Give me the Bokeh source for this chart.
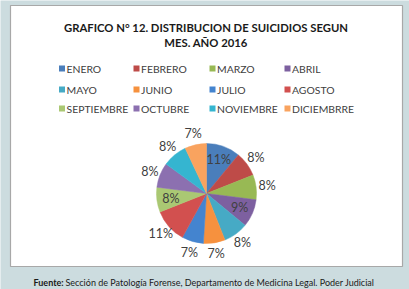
import math
from bokeh.plotting import figure
from bokeh.models import Range1d, ColumnDataSource
from bokeh.core.properties import value
from bokeh.embed import file_html
from bokeh.resources import INLINE

# ---- data ----
months = ["ENERO", "FEBRERO", "MARZO", "ABRIL", "MAYO", "JUNIO",
          "JULIO", "AGOSTO", "SEPTIEMBRE", "OCTUBRE", "NOVIEMBRE", "DICIEMBRRE"]
percent = [11, 8, 8, 9, 8, 7, 7, 11, 8, 8, 8, 7]
colors = ["#4A7EBB", "#BE4B48", "#98B954", "#7D60A0", "#46AAC5", "#F6913E",
          "#4484CF", "#D2504F", "#AAC873", "#8C70B0", "#35B5D0", "#F9A35F"]
inside_labels = ["ENERO", "ABRIL", "SEPTIEMBRE"]
title_lines = ["GRAFICO N° 12. DISTRIBUCION DE SUICIDIOS SEGUN", "MES. AÑO 2016"]
source_bold = "Fuente:"
source_text = "Sección de Patología Forense, Departamento de Medicina Legal. Poder Judicial"

W, H = 409, 289
FONT = value("Lato")


def Y(py):
    return H - py


p = figure(width=W, height=H, x_range=Range1d(0, W), y_range=Range1d(0, H),
           output_backend="svg", toolbar_location=None, min_border=0)
p.axis.visible = False
p.grid.visible = False
p.outline_line_color = None
p.background_fill_color = "#CCDCDF"
p.border_fill_color = "#CCDCDF"

# white panel
p.quad(left=[10], right=[402], top=[Y(5)], bottom=[Y(266)],
       fill_color="white", line_color="#A8A8A8", line_width=1.2)

# title
p.text(x=[205.5, 205.5], y=[Y(27), Y(42)], text=title_lines,
       text_font=FONT, text_font_style="bold", text_font_size="11.3px",
       text_align="center", text_baseline="middle", text_color="#1a1a1a")

# legend 3 rows x 4 columns
col_x = [61.5, 136, 212, 287]
row_y = [68, 89, 108]
lx, ly, lt, lc = [], [], [], []
for i, m in enumerate(months):
    r, c = divmod(i, 4)
    lx.append(col_x[c]); ly.append(Y(row_y[r])); lt.append(m); lc.append(colors[i])
p.rect(x=lx, y=ly, width=6, height=6, fill_color=lc, line_color=None)
p.text(x=[v + 4.5 for v in lx], y=ly, text=lt, text_font=FONT,
       text_font_size="10.4px", text_align="left", text_baseline="middle",
       text_color="#404040")

# pie
cx, cy, R = 206, Y(193), 50
total = float(sum(percent))
starts, ends, lxs, lys, labs = [], [], [], [], []
cum = 0.0
for m, v in zip(months, percent):
    a0 = math.pi / 2 - 2 * math.pi * cum / total
    a1 = math.pi / 2 - 2 * math.pi * (cum + v) / total
    mid = (a0 + a1) / 2
    starts.append(a0); ends.append(a1)
    rr = R * 0.72 if m in inside_labels else R * 1.22
    lxs.append(cx + rr * math.cos(mid)); lys.append(cy + rr * math.sin(mid))
    labs.append(f"{v}%")
    cum += v
src = ColumnDataSource(dict(start=starts, end=ends, color=colors))
p.wedge(x=cx, y=cy, radius=R, start_angle="start", end_angle="end",
        direction="clock", fill_color="color", line_color="color",
        line_width=0.5, source=src)
p.text(x=lxs, y=lys, text=labs, text_font=FONT, text_font_size="12.5px",
       text_align="center", text_baseline="middle", text_color="#404040")

# source note
p.text(x=[33], y=[Y(282)], text=[source_bold], text_font=FONT,
       text_font_style="bold", text_font_size="9px", text_align="left",
       text_baseline="middle", text_color="#1a1a1a")
p.text(x=[65], y=[Y(282)], text=[source_text], text_font=FONT,
       text_font_size="9px", text_align="left",
       text_baseline="middle", text_color="#1a1a1a")

open("out.html", "w").write(file_html(p, INLINE))
